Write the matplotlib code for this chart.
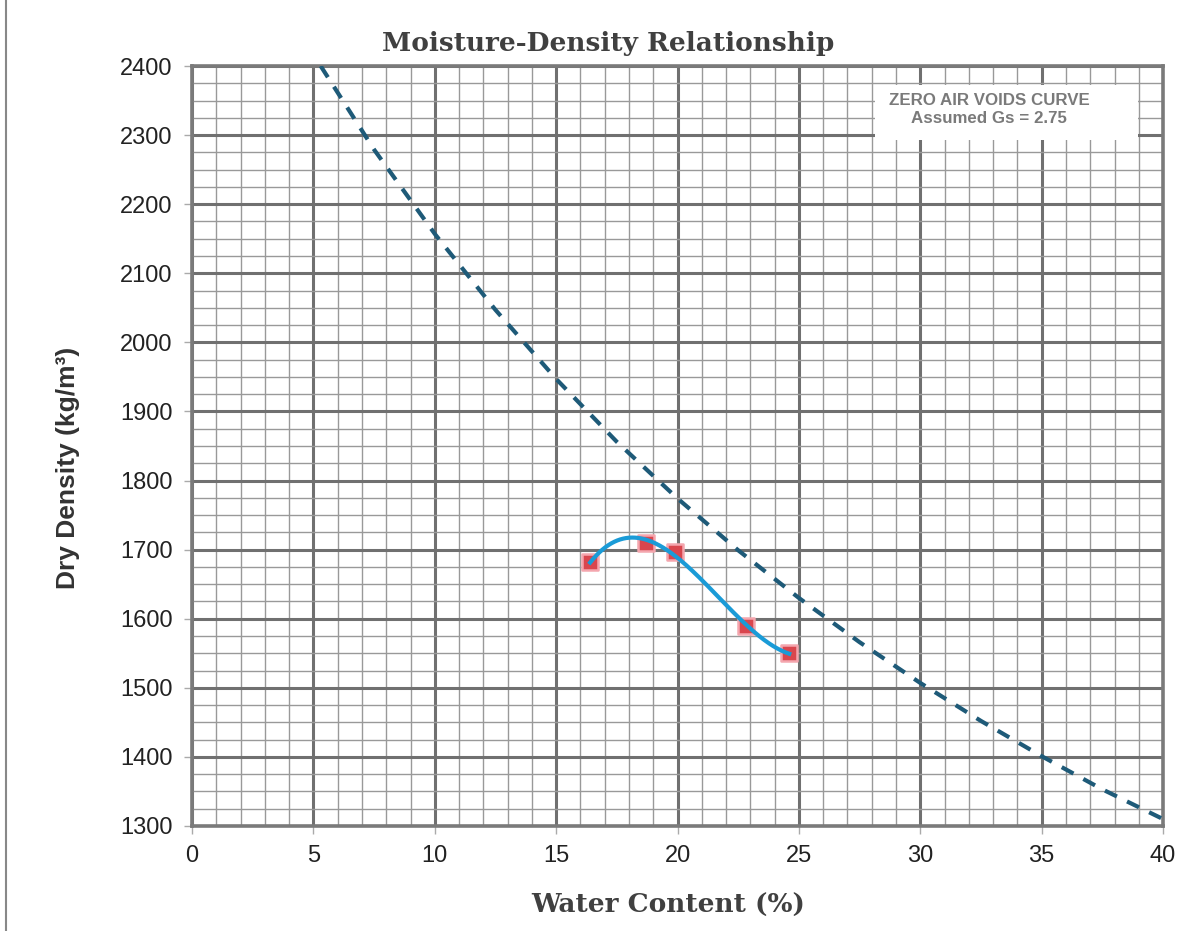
import numpy as np
import matplotlib
matplotlib.use("Agg")
import matplotlib.pyplot as plt
from matplotlib.ticker import MultipleLocator
from matplotlib.patches import Rectangle

# test points (water content %, dry density kg/m3)
water = [16.4, 18.7, 19.9, 22.8, 24.6]
density = [1682, 1710, 1696, 1590, 1550]

# zero air voids curve, Gs = 2.75
zav_w = [5.3, 7.5, 10, 12.5, 15, 17.5, 20, 22.5, 25, 27.5, 30, 32.5, 35, 37.5, 40]
zav_d = [2400, 2279, 2157, 2047, 1947, 1856, 1774, 1699, 1630, 1566, 1507, 1452, 1401, 1353, 1310]

xticks = [0, 5, 10, 15, 20, 25, 30, 35, 40]
yticks = [1300, 1400, 1500, 1600, 1700, 1800, 1900, 2000, 2100, 2200, 2300, 2400]

fig = plt.figure(figsize=(12.04, 9.31), dpi=100)
ax = fig.add_axes([0.1595, 0.1128, 0.8065, 0.8163])

ax.set_xlim(0, 40)
ax.set_ylim(1300, 2400)
ax.set_xticks(xticks)
ax.set_yticks(yticks)
ax.xaxis.set_minor_locator(MultipleLocator(1))
ax.yaxis.set_minor_locator(MultipleLocator(25))
ax.grid(which="major", color="#707070", linewidth=2.2)
ax.grid(which="minor", color="#999999", linewidth=1.0)
ax.set_axisbelow(True)
for s in ax.spines.values():
    s.set_color("#7a7a7a")
    s.set_linewidth(2.6)
ax.tick_params(which="major", length=6, width=1, color="#aaaaaa", labelsize=17,
               labelcolor="#222222", pad=8)
ax.tick_params(which="minor", length=0)
for lab in ax.get_xticklabels() + ax.get_yticklabels():
    lab.set_fontfamily("Liberation Sans")

# zero air voids
ax.plot(zav_w, zav_d, color="#1e5a78", linewidth=3, dashes=(3.2, 2.7), zorder=3)

# test points
ax.scatter(water, density, marker="s", s=130, color="#d9464e", edgecolors="#f4a6ae",
           linewidths=1.8, zorder=4)

# fitted curve
coef = np.polyfit(water, density, 3)
xf = np.linspace(min(water), max(water), 200)
ax.plot(xf, np.polyval(coef, xf), color="#1a9bd7", linewidth=3, zorder=5)

# label box for the ZAV curve
ax.add_patch(Rectangle((0.703, 0.903), 0.271, 0.072, transform=ax.transAxes,
                       facecolor="white", edgecolor="none", zorder=6))
ax.text(0.821, 0.943, "ZERO AIR VOIDS CURVE\nAssumed Gs = 2.75", transform=ax.transAxes,
        ha="center", va="center", fontsize=12.2, fontweight="bold", color="#7a7a7a",
        family="Liberation Sans", linespacing=1.25, multialignment="center", zorder=7)

fig.text(0.505, 0.953, "Moisture-Density Relationship", ha="center", va="center",
         fontsize=19, fontweight="bold", color="#404040", family="DejaVu Serif")
fig.text(0.555, 0.027, "Water Content (%)", ha="center", va="center",
         fontsize=19, fontweight="bold", color="#404040", family="DejaVu Serif")
fig.text(0.0565, 0.497, "Dry Density (kg/m³)", ha="center", va="center", rotation=90,
         fontsize=19, fontweight="bold", color="#333333", family="Liberation Sans")

fig.add_artist(plt.Line2D([0.005, 0.005], [0.0, 1.0], color="#888888", linewidth=1.5))

fig.savefig("out.png", dpi=100, facecolor="white")
